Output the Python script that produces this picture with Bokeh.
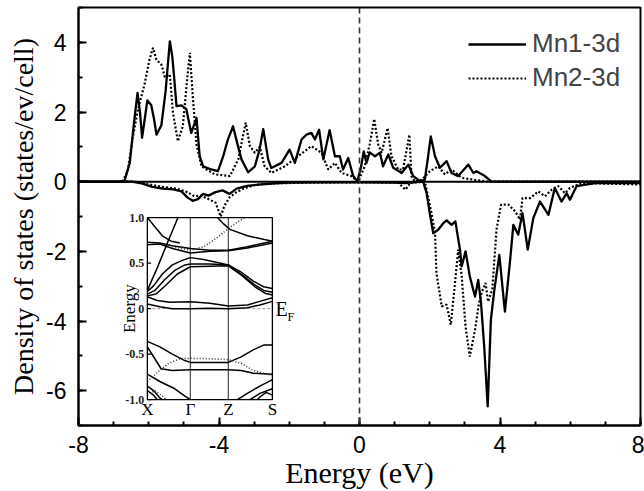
import numpy as np
from bokeh.plotting import figure
from bokeh.models import (Range1d, SingleIntervalTicker, Span, Legend, LegendItem,
                          PrintfTickFormatter)
from bokeh.embed import file_html
from bokeh.resources import INLINE
from bokeh.core.properties import value

# ---------------- DOS data (energy in eV, DOS in states/eV/cell) ----------------
mn1_up_e = [-8, -6.8, -6.69, -6.54, -6.43, -6.32, -6.25, -6.19, -6.1, -6.04, -5.93, -5.85, -5.78, -5.64,
            -5.52, -5.40, -5.33, -5.28, -5.21, -5.07, -4.93, -4.79, -4.64, -4.55, -4.45, -4.22, -4.03,
            -3.88, -3.75, -3.60, -3.48, -3.36, -3.17, -2.98, -2.85, -2.74, -2.60, -2.51, -2.22, -1.99,
            -1.84, -1.65, -1.51, -1.37, -1.27, -1.15, -1.03, -0.85, -0.70, -0.56, -0.47, -0.32, -0.18,
            -0.06, 0.04, 0.12, 0.20, 0.29, 0.44, 0.58, 0.67, 0.82, 0.96, 1.20, 1.39, 1.53, 1.72, 1.86,
            1.95, 2.03, 2.15, 2.29, 2.48, 2.62, 2.81, 3.10, 3.24, 3.33, 3.57, 3.76, 8]
mn1_up_d = [0, 0, 0.02, 0.54, 1.6, 2.55, 2.0, 1.26, 1.9, 2.33, 2.2, 1.8, 1.35, 1.62,
            2.6, 4.03, 3.6, 3.03, 2.17, 2.19, 2.08, 1.4, 1.83, 0.73, 0.44, 0.35, 0.30,
            0.73, 1.2, 1.59, 1.1, 0.64, 0.27, 0.44, 0.9, 1.51, 0.64, 0.39, 0.54, 0.92,
            0.54, 1.21, 1.35, 1.40, 1.21, 1.49, 0.64, 1.48, 0.73, 0.73, 0.35, 0.68, 0.16,
            0.02, 0.4, 0.87, 0.54, 0.84, 0.73, 0.83, 0.44, 0.78, 0.40, 0.25, 0.49, 0.16, 0.02, 0.05,
            0.7, 1.30, 0.73, 0.40, 0.59, 0.25, 0.16, 0.49, 0.25, 0.30, 0.16, 0.0, 0]

mn1_dn_e = [-8, -6.5, -6.2, -5.9, -5.6, -5.3, -5.07, -4.9, -4.75, -4.6, -4.45, -4.3, -4.1, -3.9, -3.7,
            -3.5, -3.2, -2.8, -2.4, -2.0, -1.0, 0, 1.0, 1.29, 1.81, 1.91, 2.00, 2.10, 2.24, 2.38, 2.48,
            2.62, 2.73, 2.86, 2.91, 3.02, 3.14, 3.29, 3.38, 3.46, 3.55, 3.65, 3.74, 3.84, 3.98, 4.14,
            4.28, 4.38, 4.52, 4.64, 4.79, 4.95, 5.14, 5.38, 5.56, 5.75, 5.90, 5.99, 6.18, 6.71, 8]
mn1_dn_d = [0, 0, -0.05, -0.15, -0.2, -0.22, -0.28, -0.45, -0.55, -0.5, -0.35, -0.4, -0.3, -0.25, -0.35,
            -0.2, -0.12, -0.08, -0.05, -0.03, -0.02, -0.02, -0.03, -0.04, 0, -0.32, -0.90, -1.48, -1.38, -1.2, -1.11,
            -1.24, -1.14, -1.95, -2.43, -2.0, -2.72, -3.30, -2.82, -3.49, -4.73, -6.45, -3.97, -3.10, -2.10, -3.73,
            -2.34, -1.24, -1.52, -0.90, -1.95, -1.04, -0.57, -0.95, -0.18, -0.57, -0.33, -0.52, -0.13, -0.04, -0.04]

mn2_up_e = [-8, -6.75, -6.6, -6.45, -6.3, -6.11, -5.98, -5.88, -5.78, -5.64, -5.54, -5.40, -5.31, -5.17,
            -5.03, -4.92, -4.83, -4.74, -4.64, -4.50, -4.12, -3.69, -3.45, -3.32, -3.24, -3.12, -2.98,
            -2.84, -2.70, -2.51, -2.13, -1.75, -1.37, -1.08, -0.89, -0.70, -0.51, -0.23, -0.04, 0.15,
            0.29, 0.42, 0.53, 0.63, 0.80, 0.91, 1.10, 1.24, 1.42, 1.48, 1.58, 1.77, 2.00, 2.24, 2.43,
            2.62, 2.91, 3.29, 3.7, 8]
mn2_up_d = [0, 0, 0.3, 1.3, 2.1, 2.84, 3.5, 3.84, 3.5, 3.36, 3.0, 3.08, 1.97, 1.16,
            1.59, 2.8, 3.70, 2.36, 1.07, 0.44, 0.21, 0.16, 0.64, 1.3, 1.69, 1.02, 0.83,
            1.0, 0.44, 0.25, 0.44, 0.73, 1.02, 0.83, 0.35, 0.54, 0.25, 0.16, 0.0, 0.44,
            1.07, 1.80, 1.07, 0.83, 1.54, 0.73, 0.35, 0.35, 1.35, 0.16, 0.0, 0.05, 0.30, 0.44, 0.21,
            0.35, 0.11, 0.05, 0, 0]

mn2_dn_e = [-8, -6.4, -6.0, -5.6, -5.2, -4.9, -4.7, -4.5, -4.3, -4.1, -3.95, -3.85, -3.7, -3.5, -3.3,
            -3.0, -2.5, -1.5, 0, 1.1, 1.31, 1.45, 1.86, 2.05, 2.15, 2.19, 2.34, 2.48, 2.60, 2.70, 2.81,
            2.91, 3.02, 3.14, 3.29, 3.40, 3.49, 3.59, 3.66, 3.78, 3.90, 4.03, 4.24, 4.43, 4.57, 4.64,
            4.86, 5.09, 5.28, 5.47, 5.66, 5.85, 5.99, 6.33, 8]
mn2_dn_d = [0, 0, -0.08, -0.15, -0.2, -0.3, -0.42, -0.4, -0.5, -0.6, -1.0, -0.7, -0.45, -0.3, -0.2,
            -0.1, -0.05, -0.03, -0.02, -0.03, -0.23, -0.03, 0, -0.90, -1.48, -2.62, -3.58, -3.53, -4.11, -3.10, -1.95,
            -2.72, -4.16, -5.02, -4.25, -3.49, -3.15, -2.91, -3.44, -3.10, -1.38, -0.66, -0.66, -0.85, -1.09, -0.47,
            -0.47, -0.28, -0.42, -0.23, -0.13, -0.33, -0.18, -0.04, -0.08]

series_labels = ["Mn1-3d", "Mn2-3d"]
x_title = "Energy (eV)"
y_title = "Density of states (states/ev/cell)"
x_ticks_interval = 4
y_ticks_interval = 2
x_lim = (-8, 8)
y_lim = (-7, 5)

# ---------------- inset: band structure ----------------
kpath_pos = [0.0, 0.344, 0.648, 1.0]
kpath_labels = ["X", "\u0393", "Z", "S"]
inset_e_lim = (-1.0, 1.0)
inset_ticks = [-1.0, -0.5, 0.0, 0.5, 1.0]
inset_tick_labels = ["-1.0", "-0.5", "0", "0.5", "1.0"]

bands_solid_k = [
    [0, 0.08, 0.16, 0.245],
    [0, 0.06, 0.12, 0.19, 0.26],
    [0, 0.1, 0.2, 0.344, 0.5, 0.648, 0.8, 1.0],
    [0, 0.1, 0.2, 0.344, 0.5, 0.648, 0.8, 1.0],
    [0.56, 0.61, 0.66, 0.8, 0.9, 1.0],
    [0, 0.05, 0.12, 0.2, 0.28, 0.344, 0.45, 0.55, 0.648, 0.75, 0.85, 0.93, 1.0],
    [0, 0.06, 0.14, 0.22, 0.3, 0.344, 0.5, 0.648, 0.75, 0.85, 0.93, 1.0],
    [0, 0.07, 0.15, 0.24, 0.344, 0.5, 0.648, 0.76, 0.86, 0.94, 1.0],
    [0, 0.08, 0.18, 0.344, 0.5, 0.648, 0.8, 0.9, 1.0],
    [0, 0.1, 0.2, 0.344, 0.5, 0.648, 0.8, 0.9, 1.0],
    [0, 0.1, 0.2, 0.3, 0.344, 0.5, 0.648, 0.75, 0.85, 0.93, 1.0],
    [0, 0.06, 0.11, 0.2, 0.344, 0.5, 0.648, 0.75, 0.85, 1.0],
    [0, 0.1, 0.22, 0.3, 0.344],
    [0.72, 0.8, 0.9, 1.0],
    [0.82, 0.9, 1.0],
    [0, 0.05, 0.1, 0.12],
    [0, 0.05, 0.08],
    [1.0, 0.95, 0.9, 0.88],
]
bands_solid_e = [
    [0.2, 0.45, 0.72, 1.0],
    [1.0, 0.9, 0.8, 0.74, 0.72],
    [0.73, 0.72, 0.69, 0.66, 0.64, 0.64, 0.68, 0.74],
    [0.70, 0.71, 0.66, 0.61, 0.63, 0.635, 0.665, 0.72],
    [1.0, 0.93, 0.87, 0.8, 0.77, 0.74],
    [0.19, 0.25, 0.38, 0.48, 0.53, 0.56, 0.54, 0.51, 0.48, 0.40, 0.30, 0.24, 0.22],
    [0.16, 0.2, 0.32, 0.42, 0.48, 0.49, 0.49, 0.48, 0.38, 0.27, 0.2, 0.18],
    [0.14, 0.16, 0.26, 0.38, 0.46, 0.465, 0.47, 0.36, 0.24, 0.17, 0.15],
    [0.13, 0.09, 0.07, 0.075, 0.06, 0.03, 0.04, 0.08, 0.12],
    [0.05, 0.02, 0.0, 0.0, 0.005, 0.0, 0.01, 0.04, 0.08],
    [-0.36, -0.42, -0.5, -0.57, -0.59, -0.59, -0.59, -0.53, -0.45, -0.40, -0.40],
    [-0.42, -0.55, -0.66, -0.68, -0.67, -0.67, -0.67, -0.68, -0.71, -0.72],
    [-0.72, -0.8, -0.88, -0.96, -1.0],
    [-1.0, -0.93, -0.85, -0.78],
    [-1.0, -0.93, -0.88],
    [-0.85, -0.9, -0.98, -1.0],
    [-0.9, -0.95, -1.0],
    [-0.95, -0.92, -0.97, -1.0],
]
bands_dot_k = [
    [0.2, 0.344, 0.45, 0.55, 0.648, 0.72, 0.78],
    [0.0, 0.08, 0.17, 0.26, 0.344, 0.5, 0.648, 0.75, 0.85, 0.95, 1.0],
    [0, 0.06, 0.12, 0.15],
]
bands_dot_e = [
    [0.68, 0.64, 0.68, 0.77, 0.88, 0.95, 1.0],
    [-0.80, -0.7, -0.6, -0.55, -0.545, -0.55, -0.56, -0.6, -0.68, -0.72, -0.73],
    [-0.95, -0.9, -0.96, -1.0],
]

# position of the inset box, in main-plot data units (layout only)
inset_box_x = (-6.04, -2.48)
inset_box_y = (-6.26, -1.03)

SERIF = "Liberation Serif"
SANS = "Liberation Sans"

p = figure(width=644, height=491, x_range=x_lim, y_range=y_lim,
           output_backend="svg", toolbar_location=None,
           min_border_left=78, min_border_right=4, min_border_top=7, min_border_bottom=66)
p.background_fill_color = "white"
p.border_fill_color = "white"
p.outline_line_color = "black"
p.outline_line_width = 2
p.grid.visible = False

for ax, interval, nminor, standoff in ((p.xaxis[0], x_ticks_interval, 4, 10),
                                       (p.yaxis[0], y_ticks_interval, 2, 12)):
    ax.ticker = SingleIntervalTicker(interval=interval, num_minor_ticks=nminor)
    ax.formatter = PrintfTickFormatter(format="%d")
    ax.major_tick_in = 8
    ax.major_tick_out = 0
    ax.minor_tick_in = 4
    ax.minor_tick_out = 0
    ax.axis_line_width = 2
    ax.major_tick_line_width = 2
    ax.minor_tick_line_width = 2
    ax.major_label_text_font = SANS
    ax.major_label_text_font_size = "23px"
    ax.major_label_text_color = "black"
    ax.major_label_standoff = standoff
    ax.axis_label_text_font = SERIF
    ax.axis_label_text_font_style = "normal"
    ax.axis_label_text_color = "black"

p.xaxis.axis_label = x_title
p.xaxis.axis_label_text_font_size = "30px"
p.xaxis.axis_label_standoff = 0
p.yaxis.axis_label = y_title
p.yaxis.axis_label_text_font_size = "28px"
p.yaxis.axis_label_standoff = 4

p.add_layout(Span(location=0, dimension="width", line_color="black", line_width=2))
p.add_layout(Span(location=0, dimension="height", line_color="#333333", line_width=1.6, line_dash="6 4"))

r1 = p.line(mn1_up_e, mn1_up_d, line_color="black", line_width=2.3, line_join="round")
p.line(mn1_dn_e, mn1_dn_d, line_color="black", line_width=2.3, line_join="round")
r2 = p.line(mn2_up_e, mn2_up_d, line_color="black", line_width=2.2, line_dash="2 2")
p.line(mn2_dn_e, mn2_dn_d, line_color="black", line_width=2.2, line_dash="2 2")

legend = Legend(items=[LegendItem(label=series_labels[0], renderers=[r1]),
                       LegendItem(label=series_labels[1], renderers=[r2])],
                location=(390, 332), border_line_color=None, background_fill_alpha=0,
                label_text_font=SANS, label_text_font_size="26px", glyph_width=58,
                glyph_height=30, label_height=30, spacing=3, padding=0, margin=0,
                label_standoff=6)
p.add_layout(legend)

# ---------------- inset, drawn through its own ranges ----------------
k0, k1 = kpath_pos[0], kpath_pos[-1]
e0, e1 = inset_e_lim
sx = (inset_box_x[1] - inset_box_x[0]) / (k1 - k0)
sy = (inset_box_y[1] - inset_box_y[0]) / (e1 - e0)
p.extra_x_ranges = {"k": Range1d(k0 + (x_lim[0] - inset_box_x[0]) / sx, k0 + (x_lim[1] - inset_box_x[0]) / sx)}
p.extra_y_ranges = {"eb": Range1d(e0 + (y_lim[0] - inset_box_y[0]) / sy, e0 + (y_lim[1] - inset_box_y[0]) / sy)}
R = dict(x_range_name="k", y_range_name="eb")

p.quad(left=[k0], right=[k1], bottom=[e0], top=[e1], fill_color="white", line_color=None, **R)
p.segment(x0=[k0], y0=[0], x1=[k1], y1=[0], line_color="#999999", line_width=1, line_dash="3 2", **R)
p.segment(x0=kpath_pos[1:3], y0=[e0] * 2, x1=kpath_pos[1:3], y1=[e1] * 2,
          line_color="#555555", line_width=1.3, **R)
p.multi_line(xs=bands_solid_k, ys=bands_solid_e, line_color="black", line_width=1.5, **R)
p.multi_line(xs=bands_dot_k, ys=bands_dot_e, line_color="#333333", line_width=1.6, line_dash="1 2", **R)
p.quad(left=[k0], right=[k1], bottom=[e0], top=[e1], fill_color=None, line_color="black", line_width=1.3, **R)
p.segment(x0=[k0] * len(inset_ticks), y0=inset_ticks, x1=[k0 + 0.03] * len(inset_ticks), y1=inset_ticks,
          line_color="black", line_width=1.2, **R)
p.text(x=[k0] * len(inset_ticks), y=inset_ticks, text=inset_tick_labels, x_offset=-3,
       text_align="right", text_baseline="middle", text_font=value(SERIF),
       text_font_size="12px", text_font_style="bold", text_color="#222222", **R)
p.text(x=kpath_pos, y=[e0] * 4, text=kpath_labels, y_offset=0, text_align="center",
       text_baseline="top", text_font=value(SERIF), text_font_size="17px", text_color="black", **R)
p.text(x=[k0], y=[0.0], text=["Energy"], angle=np.pi / 2, x_offset=-18, text_align="center",
       text_baseline="alphabetic", text_font=value(SERIF), text_font_size="17px", text_color="black", **R)
p.text(x=[k1], y=[0.0], text=["E"], x_offset=3, text_align="left", text_baseline="middle",
       text_font=value(SERIF), text_font_size="20px", text_color="black", **R)
p.text(x=[k1], y=[0.0], text=["F"], x_offset=15, y_offset=8, text_align="left", text_baseline="middle",
       text_font=value(SERIF), text_font_size="12px", text_color="black", **R)

open("out.html", "w").write(file_html(p, INLINE))
